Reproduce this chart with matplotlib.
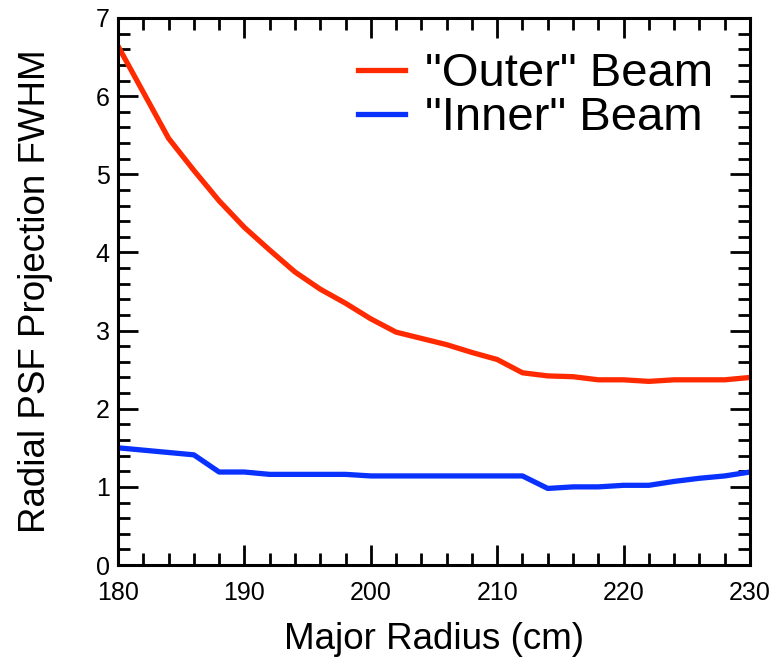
import matplotlib.pyplot as plt
from matplotlib.ticker import MultipleLocator

plt.rcParams['font.family'] = ['Liberation Sans', 'DejaVu Sans']

# major radius (cm), one sample every 2 cm
radius = [180, 182, 184, 186, 188, 190, 192, 194, 196, 198, 200, 202, 204,
          206, 208, 210, 212, 214, 216, 218, 220, 222, 224, 226, 228, 230]

outer_fwhm = [6.64, 6.05, 5.46, 5.05, 4.66, 4.32, 4.03, 3.75, 3.53, 3.35,
              3.15, 2.98, 2.90, 2.82, 2.72, 2.63, 2.46, 2.42, 2.41, 2.37,
              2.37, 2.35, 2.37, 2.37, 2.37, 2.40]

inner_fwhm = [1.50, 1.47, 1.44, 1.41, 1.19, 1.19, 1.16, 1.16, 1.16, 1.16,
              1.14, 1.14, 1.14, 1.14, 1.14, 1.14, 1.14, 0.98, 1.00, 1.00,
              1.02, 1.02, 1.07, 1.11, 1.14, 1.19]

fig = plt.figure(figsize=(7.8, 6.59), dpi=100)
ax = fig.add_axes([0.1513, 0.1426, 0.8102, 0.8301])

ax.plot(radius, outer_fwhm, color='#ff2a00', lw=3.8, label='"Outer" Beam')
ax.plot(radius, inner_fwhm, color='#0a32ff', lw=3.8, label='"Inner" Beam')

ax.set_xlim(180, 230)
ax.set_ylim(0, 7)
ax.xaxis.set_major_locator(MultipleLocator(10))
ax.xaxis.set_minor_locator(MultipleLocator(2))
ax.yaxis.set_major_locator(MultipleLocator(1))
ax.yaxis.set_minor_locator(MultipleLocator(0.2))

for s in ax.spines.values():
    s.set_linewidth(2.2)
ax.tick_params(which='both', direction='in', top=True, right=True, width=2.0)
ax.tick_params(which='major', length=14.5, labelsize=18)
ax.tick_params(which='minor', length=8.5)
ax.tick_params(axis='x', which='major', pad=11.5)
ax.tick_params(axis='y', which='major', pad=6)

ax.set_xlabel('Major Radius (cm)', fontsize=26.5)
ax.set_ylabel('Radial PSF Projection FWHM', fontsize=26.5)
ax.xaxis.set_label_coords(0.5, -0.104)
ax.yaxis.set_label_coords(-0.103, 0.5)

ax.legend(loc='upper left', bbox_to_anchor=(0.38, 0.937), frameon=False,
          fontsize=34, handlelength=1.0, handletextpad=0.42,
          labelspacing=0.0, borderpad=0, borderaxespad=0)

fig.savefig('out.png', dpi=100)
